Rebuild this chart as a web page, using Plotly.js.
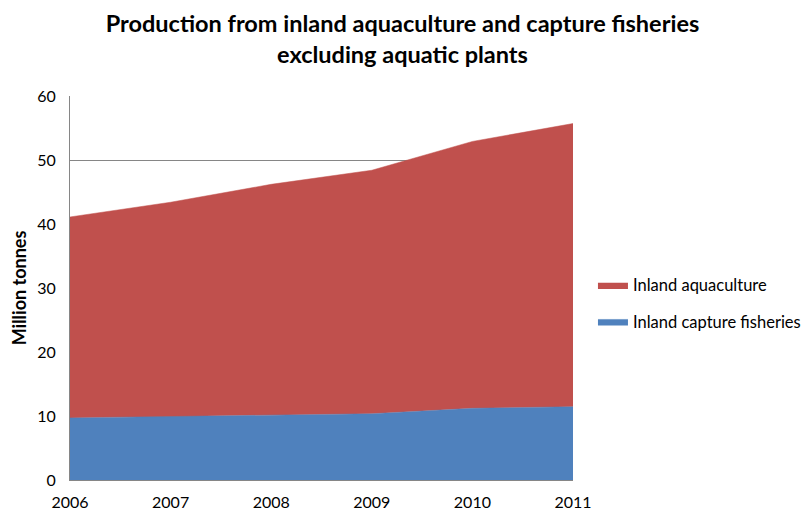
<!DOCTYPE html>
<html>
<head>
<meta charset="utf-8">
<script src="https://cdn.plot.ly/plotly-3.0.1.min.js"></script>
<style>html,body{margin:0;padding:0;background:#fff;}#chart{width:805px;height:514px;}</style>
</head>
<body>
<div id="chart"></div>
<script>
const years = [2006, 2007, 2008, 2009, 2010, 2011];
const captureFisheries = [9.7, 9.95, 10.2, 10.35, 11.2, 11.45];
const aquaculture = [31.4, 33.45, 36.0, 38.05, 41.7, 44.25];
const yTicks = [0, 10, 20, 30, 40, 50, 60];

const FONT = 'Lato, "Open Sans", "Liberation Sans", sans-serif';

const data = [
  {
    x: years, y: captureFisheries, name: 'Inland capture fisheries',
    type: 'scatter', mode: 'lines', stackgroup: 'one', legendgroup: 'b', legendrank: 2,
    fillcolor: '#4F81BD', line: {color: '#4F81BD', width: 0.5}
  },
  {
    x: years, y: aquaculture, name: 'Inland aquaculture',
    type: 'scatter', mode: 'lines', stackgroup: 'one', legendgroup: 'a', legendrank: 1,
    fillcolor: '#C0504D', line: {color: '#C0504D', width: 0.5}
  }
];

const layout = {
  width: 805, height: 514,
  paper_bgcolor: '#fff', plot_bgcolor: '#fff',
  margin: {l: 70, r: 232, t: 96, b: 34, autoexpand: false},
  font: {family: FONT, size: 16, color: '#000'},
  title: {
    text: '<b>Production from inland aquaculture and capture fisheries<br>excluding aquatic plants</b>',
    font: {family: FONT, size: 23.5, color: '#000'},
    xref: 'container', x: 0.5, xanchor: 'center',
    yref: 'container', y: 0.937, yanchor: 'middle'
  },
  xaxis: {
    range: [2006, 2011], tickvals: years, ticktext: years.map(String),
    showgrid: false, zeroline: false, showline: true, linecolor: '#868686',
    ticks: '', tickfont: {size: 16, family: FONT}, ticklabelstandoff: 8
  },
  yaxis: {
    range: [0, 60], tickvals: yTicks,
    showgrid: true, gridcolor: '#868686', gridwidth: 1,
    zeroline: false, showline: true, linecolor: '#868686',
    ticks: '', tickfont: {size: 16, family: FONT}, ticklabelstandoff: 10,
    title: {text: '<b>Million tonnes</b>', font: {size: 18, family: FONT}, standoff: 5}
  },
  legend: {
    xref: 'container', x: 0.7366, xanchor: 'left',
    yref: 'container', y: 0.41, yanchor: 'middle',
    traceorder: 'grouped', font: {size: 16.5, family: FONT},
    tracegroupgap: 12, itemwidth: 30, bgcolor: 'rgba(0,0,0,0)'
  },
  showlegend: true
};

Plotly.newPlot('chart', data, layout, {displayModeBar: false, staticPlot: true});
</script>
</body>
</html>
